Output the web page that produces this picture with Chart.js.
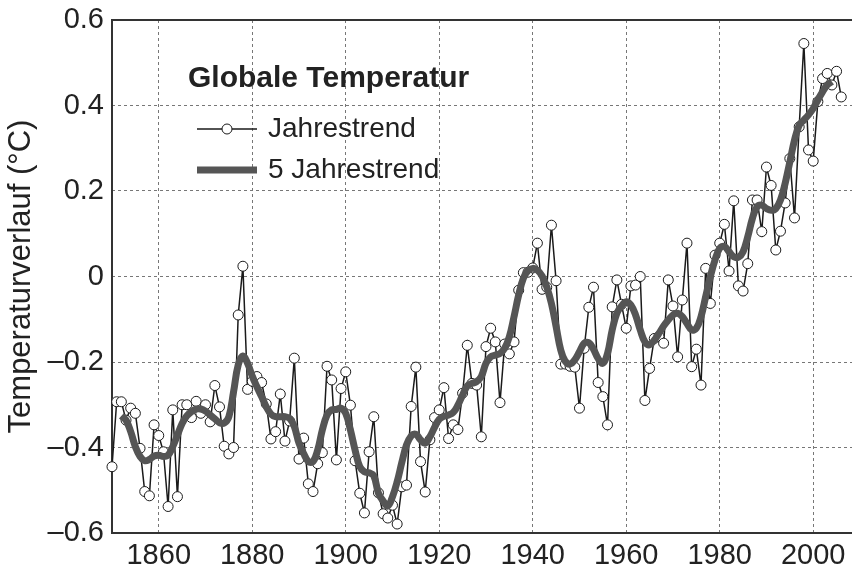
<!DOCTYPE html>
<html>
<head>
<meta charset="utf-8">
<script src="https://cdn.jsdelivr.net/npm/chart.js@4/dist/chart.umd.min.js"></script>
<style>
  html, body { margin: 0; padding: 0; background: #fff; }
</style>
</head>
<body>
<canvas id="tempChart" width="852" height="566"></canvas>
<script>
// Globale Temperatur: Jahreswerte (Abweichung in °C) und 5-Jahrestrend
var jahrStart = 1850;
var jahreswerte = [
  -0.445, -0.293, -0.293, -0.336, -0.308, -0.320, -0.402, -0.503, -0.513, -0.347, // 1850
  -0.372, -0.410, -0.538, -0.312, -0.515, -0.300, -0.300, -0.330, -0.292, -0.320, // 1860
  -0.300, -0.340, -0.255, -0.305, -0.397, -0.415, -0.400, -0.090, 0.024, -0.264,  // 1870
  -0.245, -0.234, -0.248, -0.298, -0.380, -0.363, -0.275, -0.385, -0.338, -0.191, // 1880
  -0.427, -0.378, -0.485, -0.503, -0.438, -0.412, -0.210, -0.242, -0.429, -0.262, // 1890
  -0.223, -0.301, -0.431, -0.507, -0.553, -0.410, -0.328, -0.506, -0.555, -0.565, // 1900
  -0.535, -0.579, -0.492, -0.488, -0.304, -0.212, -0.433, -0.504, -0.382, -0.330, // 1910
  -0.312, -0.260, -0.379, -0.347, -0.358, -0.273, -0.161, -0.250, -0.254, -0.375, // 1920
  -0.164, -0.121, -0.153, -0.295, -0.158, -0.181, -0.153, -0.032, 0.009, 0.010,   // 1930
  0.020, 0.078, -0.030, -0.025, 0.120, -0.010, -0.205, -0.205, -0.210, -0.212,    // 1940
  -0.308, -0.168, -0.072, -0.025, -0.248, -0.281, -0.347, -0.071, -0.008, -0.065, // 1950
  -0.121, -0.022, -0.020, 0.000, -0.290, -0.215, -0.145, -0.140, -0.156, -0.008,  // 1960
  -0.069, -0.188, -0.055, 0.078, -0.211, -0.170, -0.254, 0.019, -0.063, 0.050,    // 1970
  0.078, 0.122, 0.013, 0.177, -0.022, -0.034, 0.030, 0.179, 0.179, 0.105,         // 1980
  0.256, 0.213, 0.062, 0.106, 0.172, 0.276, 0.137, 0.350, 0.545, 0.296,           // 1990
  0.270, 0.409, 0.463, 0.475, 0.448, 0.480, 0.420                                 // 2000
];

var trendStart = 1852;
var trendwerte = [
  -0.326, -0.336, -0.363, -0.398, -0.421, -0.431, -0.428, -0.420,                 // 1852
  -0.418, -0.421, -0.418, -0.398, -0.371, -0.344, -0.326, -0.316, -0.310, -0.310, // 1860
  -0.315, -0.324, -0.333, -0.342, -0.343, -0.328, -0.270, -0.207, -0.186, -0.203, // 1870
  -0.233, -0.258, -0.281, -0.305, -0.322, -0.328, -0.328, -0.328, -0.332, -0.351, // 1880
  -0.390, -0.414, -0.433, -0.433, -0.406, -0.359, -0.324, -0.312, -0.311, -0.308, // 1890
  -0.320, -0.359, -0.406, -0.445, -0.457, -0.459, -0.466, -0.507, -0.525, -0.537, // 1900
  -0.515, -0.480, -0.435, -0.394, -0.373, -0.369, -0.382, -0.390, -0.375, -0.353, // 1910
  -0.334, -0.327, -0.324, -0.318, -0.301, -0.277, -0.256, -0.250, -0.246, -0.234, // 1920
  -0.203, -0.188, -0.184, -0.180, -0.168, -0.141, -0.094, -0.043, -0.004, 0.014,  // 1930
  0.019, 0.015, 0.001, -0.024, -0.063, -0.117, -0.172, -0.199, -0.205, -0.195,    // 1940
  -0.176, -0.156, -0.155, -0.170, -0.192, -0.203, -0.180, -0.125, -0.086, -0.069, // 1950
  -0.059, -0.067, -0.090, -0.125, -0.153, -0.160, -0.149, -0.133, -0.116, -0.102, // 1960
  -0.090, -0.086, -0.094, -0.110, -0.125, -0.121, -0.094, -0.047, 0.000, 0.039,   // 1970
  0.066, 0.070, 0.058, 0.046, 0.045, 0.058, 0.093, 0.136, 0.163, 0.167,           // 1980
  0.159, 0.155, 0.159, 0.179, 0.218, 0.268, 0.319, 0.354, 0.366, 0.378,           // 1990
  0.393, 0.413, 0.432, 0.448, 0.456                                               // 2000
];

var xTicks = [1860, 1880, 1900, 1920, 1940, 1960, 1980, 2000];
var yTicks = [-0.6, -0.4, -0.2, 0, 0.2, 0.4, 0.6];

var schrift = "'Liberation Sans', Arial, Helvetica, sans-serif";
var textFarbe = '#222';

// Rahmen um die Zeichenfläche
var rahmenPlugin = {
  id: 'rahmen',
  beforeDatasetsDraw: function(chart) {
    var a = chart.chartArea;
    var ctx = chart.ctx;
    ctx.save();
    ctx.strokeStyle = '#333';
    ctx.lineWidth = 2;
    ctx.strokeRect(a.left, a.top, a.right - a.left + 10, a.bottom - a.top);
    ctx.restore();
  }
};

// Legende oben links im Diagramm
var legendePlugin = {
  id: 'legende',
  afterDatasetsDraw: function(chart) {
    var ctx = chart.ctx;
    ctx.save();
    ctx.fillStyle = textFarbe;
    ctx.textBaseline = 'middle';
    ctx.font = 'bold 30px ' + schrift;
    ctx.fillText('Globale Temperatur', 188, 79);

    ctx.font = '28px ' + schrift;
    // Jahrestrend
    ctx.strokeStyle = '#1a1a1a';
    ctx.lineWidth = 1.5;
    ctx.beginPath();
    ctx.moveTo(197, 129);
    ctx.lineTo(257, 129);
    ctx.stroke();
    ctx.beginPath();
    ctx.arc(227, 129, 5, 0, Math.PI * 2);
    ctx.fillStyle = '#fff';
    ctx.fill();
    ctx.lineWidth = 1;
    ctx.stroke();
    ctx.fillStyle = textFarbe;
    ctx.fillText('Jahrestrend', 268, 129);

    // 5 Jahrestrend
    ctx.strokeStyle = '#555';
    ctx.lineWidth = 7;
    ctx.beginPath();
    ctx.moveTo(197, 170);
    ctx.lineTo(257, 170);
    ctx.stroke();
    ctx.fillText('5 Jahrestrend', 268, 170);
    ctx.restore();
  }
};

new Chart(document.getElementById('tempChart'), {
  type: 'line',
  data: {
    datasets: [{
      label: '5 Jahrestrend',
      data: trendwerte.map(function(v, i) { return { x: trendStart + i, y: v }; }),
      borderColor: '#555',
      borderWidth: 7,
      tension: 0.4,
      pointRadius: 0,
      clip: false,
      order: 0
    }, {
      label: 'Jahrestrend',
      data: jahreswerte.map(function(v, i) { return { x: jahrStart + i, y: v }; }),
      borderColor: '#1a1a1a',
      borderWidth: 1.5,
      tension: 0,
      pointRadius: 5,
      pointBackgroundColor: '#fff',
      pointBorderColor: '#1a1a1a',
      pointBorderWidth: 1,
      clip: false,
      order: 1
    }]
  },
  options: {
    responsive: false,
    animation: false,
    layout: { autoPadding: false, padding: { top: 20, right: 0, bottom: 0, left: 0 } },
    plugins: {
      legend: { display: false },
      tooltip: { enabled: false }
    },
    scales: {
      x: {
        type: 'linear',
        min: 1850,
        max: 2008.3,
        afterBuildTicks: function(scale) {
          scale.ticks = xTicks.map(function(v) { return { value: v }; });
        },
        afterFit: function(scale) {
          scale.height = 33;
          scale.paddingLeft = 0;
          scale.paddingRight = 0;
        },
        grid: { color: '#777', lineWidth: 1, drawTicks: false },
        border: { display: false, dash: [3, 3] },
        ticks: {
          padding: 6,
          color: textFarbe,
          font: { family: schrift, size: 29 },
          maxRotation: 0,
          callback: function(v) { return String(v); }
        }
      },
      y: {
        type: 'linear',
        min: -0.6,
        max: 0.6,
        afterBuildTicks: function(scale) {
          scale.ticks = yTicks.map(function(v) { return { value: v }; });
        },
        afterFit: function(scale) {
          scale.width = 112;
          scale.paddingTop = 0;
          scale.paddingBottom = 0;
        },
        grid: { color: '#777', lineWidth: 1, drawTicks: false },
        border: { display: false, dash: [3, 3] },
        ticks: {
          padding: 8,
          color: textFarbe,
          font: { family: schrift, size: 29 },
          callback: function(v) {
            if (v === 0) return '0';
            return (v < 0 ? '\u2013' : '') + Math.abs(v).toFixed(1);
          }
        },
        title: {
          display: true,
          text: 'Temperaturverlauf (°C)',
          color: textFarbe,
          font: { family: schrift, size: 31 },
          padding: { top: 3, bottom: 0 }
        }
      }
    }
  },
  plugins: [rahmenPlugin, legendePlugin]
});
</script>
</body>
</html>
